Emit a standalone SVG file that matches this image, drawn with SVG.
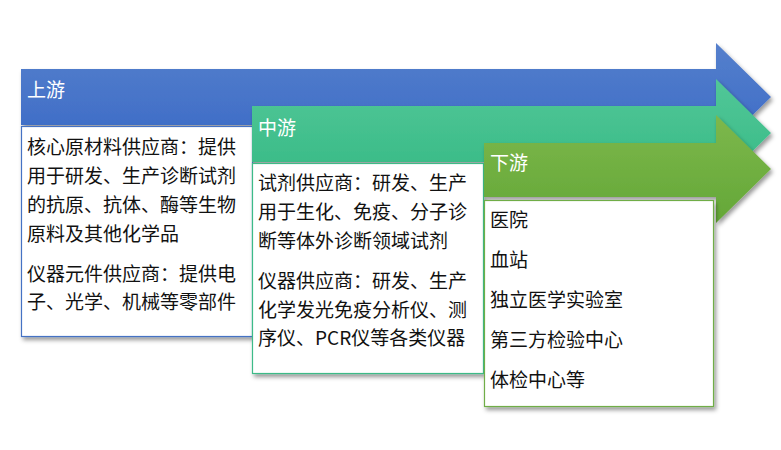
<svg xmlns="http://www.w3.org/2000/svg" width="781" height="450" viewBox="0 0 781 450">
<defs>
<linearGradient id="gBlue" x1="0" y1="0" x2="0" y2="1"><stop offset="0" stop-color="#5580cc"/><stop offset="1" stop-color="#3a69c6"/></linearGradient>
<linearGradient id="gTeal" x1="0" y1="0" x2="0" y2="1"><stop offset="0" stop-color="#52c798"/><stop offset="1" stop-color="#35b984"/></linearGradient>
<linearGradient id="gGreen" x1="0" y1="0" x2="0" y2="1"><stop offset="0" stop-color="#7db84c"/><stop offset="1" stop-color="#64a737"/></linearGradient>
<filter id="sh" x="-10%" y="-10%" width="130%" height="130%"><feDropShadow dx="2" dy="3" stdDeviation="2" flood-color="#000" flood-opacity="0.4"/></filter>
</defs>
<style>
.t{font-family:"Microsoft YaHei","Noto Sans CJK SC","Noto Sans",sans-serif;font-size:19px;fill:#111}
.h{font-family:"Microsoft YaHei","Noto Sans CJK SC","Noto Sans",sans-serif;font-size:19px;fill:#fff}
.box{fill:#fff;stroke-width:1.2;filter:url(#sh)}
.arr{filter:url(#sh)}
</style>
<rect width="781" height="450" fill="#fff"/>
<g id="upstream">
<path class="arr" d="M21,69 H716 V43 L771,97 L716,151 V125 H21 Z" fill="url(#gBlue)"/>
<text class="h" x="27" y="97">上游</text>
<rect class="box" x="21.5" y="126.5" width="231" height="210" stroke="#4472c4"/>
<text class="t" x="27" y="154">核心原材料供应商：提供</text>
<text class="t" x="27" y="183">用于研发、生产诊断试剂</text>
<text class="t" x="27" y="212">的抗原、抗体、酶等生物</text>
<text class="t" x="27" y="241">原料及其他化学品</text>
<text class="t" x="27" y="281">仪器元件供应商：提供电</text>
<text class="t" x="27" y="309">子、光学、机械等零部件</text>
</g>
<g id="midstream">
<path class="arr" d="M252,106 H716 V79 L771,133 L716,187 V162 H252 Z" fill="url(#gTeal)"/>
<text class="h" x="258" y="135">中游</text>
<rect class="box" x="252.5" y="163.5" width="231" height="210" stroke="#3dbb88"/>
<text class="t" x="258" y="190">试剂供应商：研发、生产</text>
<text class="t" x="258" y="219">用于生化、免疫、分子诊</text>
<text class="t" x="258" y="248">断等体外诊断领域试剂</text>
<text class="t" x="258" y="288">仪器供应商：研发、生产</text>
<text class="t" x="258" y="317">化学发光免疫分析仪、测</text>
<text class="t" x="258" y="345">序仪、PCR仪等各类仪器</text>
</g>
<g id="downstream">
<path class="arr" d="M484,143 H716 V115 L771,169 L716,223 V197 H484 Z" fill="url(#gGreen)"/>
<text class="h" x="490" y="170">下游</text>
<rect class="box" x="484.5" y="200.5" width="229" height="206" stroke="#70ad47"/>
<text class="t" x="490" y="227">医院</text>
<text class="t" x="490" y="267">血站</text>
<text class="t" x="490" y="307">独立医学实验室</text>
<text class="t" x="490" y="347">第三方检验中心</text>
<text class="t" x="490" y="387">体检中心等</text>
</g>
<g id="connectors"/>
</svg>
